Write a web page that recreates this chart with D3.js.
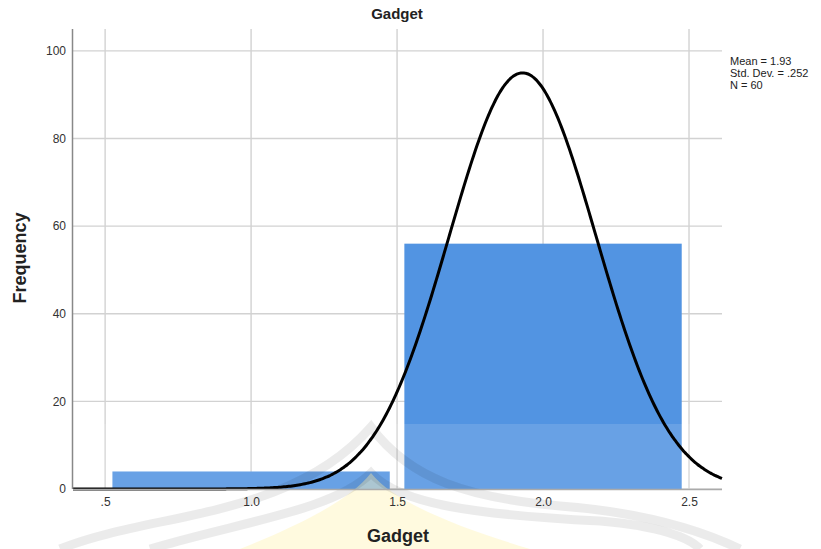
<!DOCTYPE html>
<html>
<head>
<meta charset="utf-8">
<script src="https://cdn.jsdelivr.net/npm/d3@7"></script>
<style>
  html, body { margin: 0; padding: 0; background: #fff; }
  svg { display: block; font-family: "Liberation Sans", Arial, sans-serif; }
</style>
</head>
<body>
<svg id="chart" width="821" height="549"></svg>
<script>
// Histogram of Gadget with fitted normal curve
const categories = [1, 2];            // bin centres
const counts = [4, 56];                // frequency per bin
const binWidth = 0.95;                 // drawn bar width (data units)
const xTicks = [0.5, 1.0, 1.5, 2.0, 2.5];
const xTickLabels = [".5", "1.0", "1.5", "2.0", "2.5"];
const yTicks = [0, 20, 40, 60, 80, 100];
const stats = { mean: 1.93, sd: 0.252, n: 60 };
const statLines = ["Mean = 1.93", "Std. Dev. = .252", "N = 60"];

const W = 821, H = 549;
const m = { left: 73, right: 99, top: 29, bottom: 60 };
const svg = d3.select("#chart");

const x = d3.scaleLinear().domain([0.39, 2.613]).range([m.left, W - m.right]);
const y = d3.scaleLinear().domain([0, 105]).range([H - m.bottom, m.top]);

// grid
const grid = svg.append("g").attr("stroke", "#d2d2d2").attr("stroke-width", 1.4);
grid.selectAll("line.h").data(yTicks).join("line")
  .attr("x1", m.left).attr("x2", W - m.right)
  .attr("y1", d => y(d)).attr("y2", d => y(d));
grid.selectAll("line.v").data(xTicks).join("line")
  .attr("x1", d => x(d)).attr("x2", d => x(d))
  .attr("y1", m.top).attr("y2", H - m.bottom);

// bars
svg.append("g").selectAll("rect").data(categories).join("rect")
  .attr("x", d => x(d - binWidth / 2))
  .attr("width", d => x(d + binWidth / 2) - x(d - binWidth / 2))
  .attr("y", (d, i) => y(counts[i]))
  .attr("height", (d, i) => y(0) - y(counts[i]))
  .attr("fill", "#5294e2");

// faint emblem behind the lower part of the chart
const mark = svg.append("g");
mark.append("rect").attr("x", m.left).attr("y", 424).attr("width", W - m.left - m.right).attr("height", H - 424)
  .attr("fill", "#fff").attr("opacity", 0.13);
mark.append("path")
  .attr("d", "M240,549 C300,525 350,500 371,473 C392,500 450,525 530,549 Z")
  .attr("fill", "#fff5b8").attr("opacity", 0.45);
const bands = [
  "M60,549 C150,512 290,520 371,427 C410,480 470,498 560,506 C640,512 700,530 740,549",
  "M150,549 C240,522 335,510 371,473 C400,505 480,515 600,521 C660,526 690,538 700,549"
];
mark.selectAll("path.band").data(bands).join("path")
  .attr("d", d => d).attr("fill", "none")
  .attr("stroke", "#000").attr("stroke-opacity", 0.08).attr("stroke-width", 9);

// normal curve
const [x0, x1] = x.domain();
const pts = d3.range(x0, x1 + 1e-9, (x1 - x0) / 400).map(v => {
  const z = (v - stats.mean) / stats.sd;
  return [v, stats.n * 1 / (stats.sd * Math.sqrt(2 * Math.PI)) * Math.exp(-0.5 * z * z)];
});
svg.append("path").datum(pts)
  .attr("d", d3.line().x(d => x(d[0])).y(d => y(d[1])).curve(d3.curveBasis))
  .attr("fill", "none").attr("stroke", "#000").attr("stroke-width", 3);

// axes
svg.append("line").attr("x1", m.left - 0.5).attr("x2", m.left - 0.5)
  .attr("y1", m.top).attr("y2", y(0)).attr("stroke", "#888").attr("stroke-width", 1.5);
svg.append("line").attr("x1", m.left).attr("x2", W - m.right)
  .attr("y1", y(0) + 0.5).attr("y2", y(0) + 0.5).attr("stroke", "#aaa").attr("stroke-width", 1.5);

const yAxis = d3.axisLeft(y).tickValues(yTicks).tickSize(0).tickPadding(7);
const gy = svg.append("g").attr("transform", `translate(${m.left},0)`).call(yAxis);
gy.select(".domain").remove();
gy.selectAll("text").attr("font-size", 12).attr("fill", "#333").attr("font-family", "Liberation Sans, Arial, sans-serif");

const xAxis = d3.axisBottom(x).tickValues(xTicks).tickFormat((d, i) => xTickLabels[i]).tickSize(0).tickPadding(8);
const gx = svg.append("g").attr("transform", `translate(0,${y(0)})`).call(xAxis);
gx.select(".domain").remove();
gx.selectAll("text").attr("font-size", 12).attr("fill", "#333").attr("font-family", "Liberation Sans, Arial, sans-serif");

// titles
svg.append("text").attr("x", 397).attr("y", 19).attr("text-anchor", "middle")
  .attr("font-size", 15).attr("font-weight", "bold").attr("fill", "#222").text("Gadget");
svg.append("text").attr("x", 398).attr("y", 542).attr("text-anchor", "middle")
  .attr("font-size", 18).attr("font-weight", "bold").attr("fill", "#222").text("Gadget");
svg.append("text").attr("transform", "translate(26,258) rotate(-90)").attr("text-anchor", "middle")
  .attr("font-size", 18).attr("font-weight", "bold").attr("fill", "#222").text("Frequency");

// summary statistics
svg.append("g").selectAll("text").data(statLines).join("text")
  .attr("x", 730).attr("y", (d, i) => 65 + i * 12)
  .attr("font-size", 11).attr("fill", "#222").text(d => d);
</script>
</body>
</html>
